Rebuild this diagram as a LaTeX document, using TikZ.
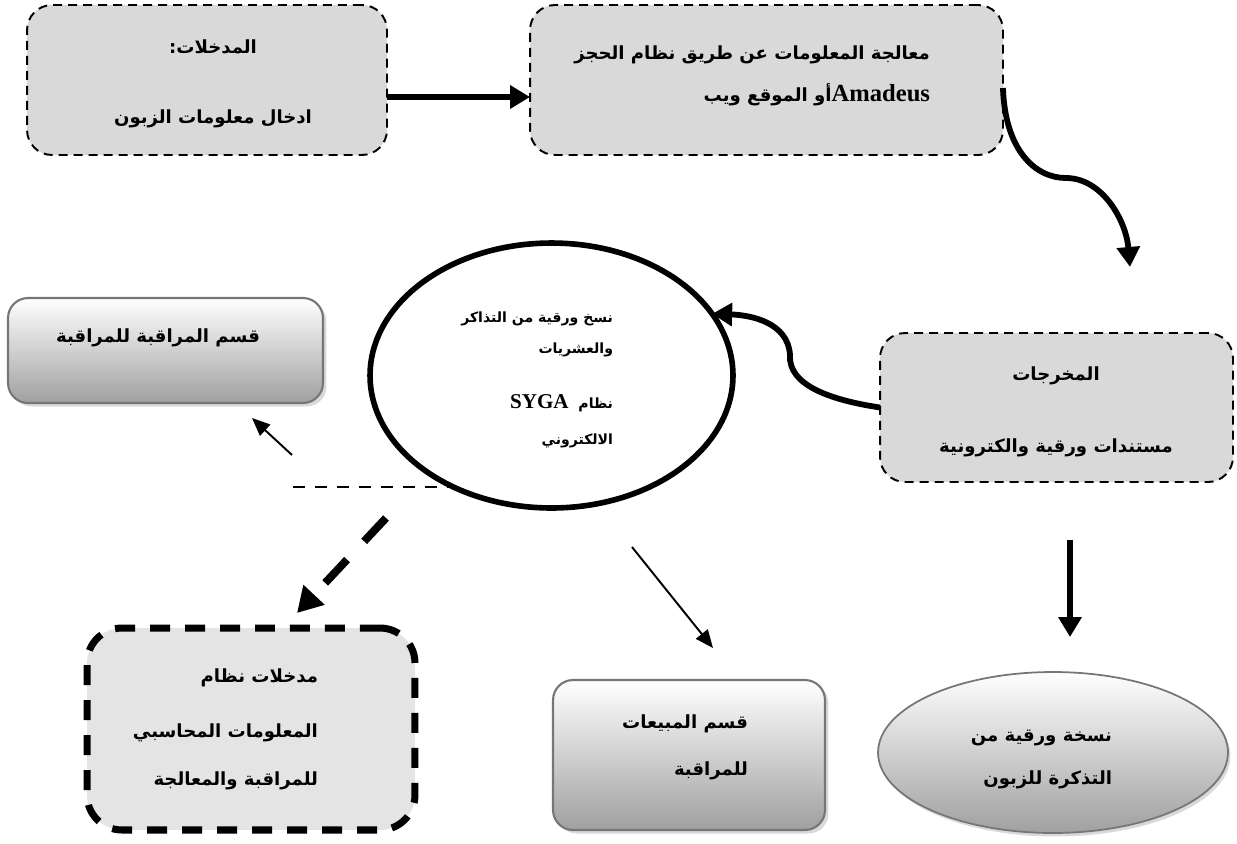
\documentclass[tikz,border=0pt]{standalone}
\usepackage{fontspec}
\setmainfont{DejaVu Sans}
\newfontfamily\arabicfont[Script=Arabic]{DejaVu Sans}
\newfontfamily\latinfont{Liberation Serif}
\TeXXeTstate=1
\usetikzlibrary{arrows.meta, shapes.geometric, shadows, positioning}
\definecolor{boxgray}{RGB}{217,217,217}
\definecolor{edgegray}{RGB}{118,118,118}
\definecolor{shadegray}{RGB}{160,160,160}
\definecolor{stonegray}{RGB}{228,228,228}

\begin{document}
\begin{tikzpicture}[
    x=0.02cm, y=-0.02cm,
    every node/.style={inner sep=0pt, outer sep=0pt},
    stepbox/.style={rectangle, rounded corners=0.5cm, draw, line width=1.1pt, dash pattern=on 0.18cm off 0.12cm, fill=boxgray},
    shadebox/.style={rectangle, rounded corners=0.4cm, draw=edgegray, line width=1.2pt, top color=white, bottom color=shadegray, drop shadow={shadow xshift=0.07cm, shadow yshift=-0.07cm, opacity=0.3}},
    shadeoval/.style={ellipse, draw=edgegray, line width=1pt, top color=white, bottom color=shadegray, drop shadow={shadow xshift=0.05cm, shadow yshift=-0.07cm, opacity=0.3}},
    ringnode/.style={ellipse, draw, line width=3.2pt, fill=white},
    stonebox/.style={rectangle, rounded corners=0.7cm, draw, line width=4pt, dash pattern=on 0.4cm off 0.3cm, fill=stonegray},
    arab/.style={font={\arabicfont\bfseries\fontsize{10.3}{14}\selectfont}, align=right},
    arabsmall/.style={font={\arabicfont\bfseries\fontsize{8}{11}\selectfont}, align=right},
    heavy/.style={line width=3.3pt, -{Triangle[length=0.4cm,width=0.45cm]}},
    slim/.style={line width=1.1pt, -{Triangle[length=0.36cm,width=0.3cm]}},
    bigdash/.style={line width=4.5pt, dash pattern=on 0.64cm off 0.5cm, -{Triangle[length=0.5cm,width=0.55cm]}}
]
    \useasboundingbox (0,0) rectangle (1237,843);

    \node[stepbox, minimum width=7.2cm, minimum height=3cm] (inp) at (207,80) {};
    \node[stepbox, minimum width=9.46cm, minimum height=3cm] (proc) at (766.5,80) {};
    \node[stepbox, minimum width=7.06cm, minimum height=2.98cm] (outp) at (1056.5,407.5) {};
    \node[ringnode, minimum width=7.26cm, minimum height=5.3cm] (paper) at (551.5,375.5) {};
    \node[shadebox, minimum width=6.3cm, minimum height=2.1cm] (ctrl) at (165.5,350.5) {};
    \node[stonebox, minimum width=6.56cm, minimum height=4.04cm] (acct) at (251,729) {};
    \node[shadebox, minimum width=5.44cm, minimum height=3cm] (sales) at (689,755) {};
    \node[shadeoval, minimum width=7cm, minimum height=3.22cm] (copy) at (1053,752.5) {};

    \node[arab, align=center] (inpT) at (213,84) {\beginR المدخلات:\endR\\[0.9cm]\beginR ادخال معلومات الزبون\endR};
    \node[arab, anchor=east] (procT) at (930,76) {\beginR معالجة المعلومات عن طريق نظام الحجز\endR\\[0.34cm]\beginR{\latinfont\bfseries\fontsize{14}{14}\selectfont Amadeus}أو الموقع ويب\endR};
    \node[arab, align=center] (outpT) at (1056,412) {\beginR المخرجات\endR\\[0.95cm]\beginR مستندات ورقية والكترونية\endR};
    \node[arabsmall, anchor=east] (paperT) at (613,380) {\beginR نسخ ورقية من التذاكر\endR\\[0.23cm]\beginR والعشريات\endR\\[0.72cm]\beginR نظام\ \ {\latinfont\bfseries\fontsize{12}{11}\selectfont SYGA}\endR\\[0.33cm]\beginR الالكتروني\endR};
    \node[arab] (ctrlT) at (158,338) {\beginR قسم المراقبة للمراقبة\endR};
    \node[arab, anchor=east] (acctT) at (318,729) {\beginR مدخلات نظام\endR\\[0.62cm]\beginR المعلومات المحاسبي\endR\\[0.45cm]\beginR للمراقبة والمعالجة\endR};
    \node[arab, anchor=east] (salesT) at (748,747) {\beginR قسم المبيعات\endR\\[0.45cm]\beginR للمراقبة\endR};
    \node[arab, anchor=east] (copyT) at (1112,759) {\beginR نسخة ورقية من\endR\\[0.37cm]\beginR التذكرة للزبون\endR};

    \coordinate (bdEnd) at (1130,267);
    \coordinate (ctrlFrom) at (292,455);
    \coordinate (ctrlTo) at (252,418);
    \coordinate (cutL) at (293,487);
    \coordinate (acctFrom) at (386,518);
    \coordinate (acctTo) at (297,613);
    \coordinate (salesFrom) at (632,547);
    \coordinate (salesTo) at (713,648);
    \coordinate (copyFrom) at (1070,540);
    \coordinate (copyTo) at (1070,637);

    \draw[heavy] ([yshift=-0.34cm]inp.east) -- ([yshift=-0.34cm]proc.west);
    \draw[heavy] ([yshift=-0.16cm]proc.east) .. controls (1005,150) and (1035,178) .. (1066,178) .. controls (1102,178) and (1126,220) .. (bdEnd);
    \draw[heavy] (outp.west) .. controls (830,400) and (788,385) .. (790,355) .. controls (788,322) and (750,315) .. (paper.21);
    \draw[slim] (ctrlFrom) -- (ctrlTo);
    \draw[line width=1.1pt, dash pattern=on 0.24cm off 0.2cm] (cutL) -- (cutL -| paper.229);
    \draw[bigdash] (acctFrom) -- (acctTo);
    \draw[slim] (salesFrom) -- (salesTo);
    \draw[heavy] (copyFrom) -- (copyTo);
\end{tikzpicture}
\end{document}
